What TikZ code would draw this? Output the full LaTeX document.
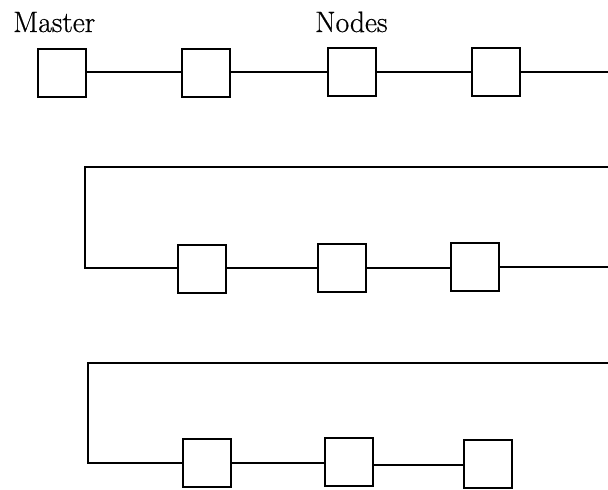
\documentclass[tikz,border=0pt]{standalone}
\usepackage{fontspec}
\newfontfamily\lblfont[FakeBold=0.6]{Latin Modern Roman}
\begin{document}
\begin{tikzpicture}[x=1pt,y=-1pt,
  box/.style={draw,line width=2pt,minimum size=48pt,inner sep=0pt,outer sep=0pt},
  wire/.style={line width=2pt},
  lbl/.style={font=\lblfont\fontsize{29.5}{34}\selectfont,anchor=base west,inner sep=0pt}]
\useasboundingbox (0,0) rectangle (608,490);
% labels
\node[lbl] (master) at (13,32) {Master};
\node[lbl] (nodes) at (315,32) {Nodes};
% row 1
\node[box] (a1) at (62,73) {};
\node[box] (a2) at (206,73) {};
\node[box] (a3) at (352,72) {};
\node[box] (a4) at (496,72) {};
\coordinate (r1) at (608,72);
\draw[wire] (a1.east |- 0,72) -- (a2.west |- 0,72);
\draw[wire] (a2.east |- 0,72) -- (a3.west |- 0,72);
\draw[wire] (a3.east |- 0,72) -- (a4.west);
\draw[wire] (a4.east) -- (r1);
% row 2
\node[box] (b1) at (202,269) {};
\node[box] (b2) at (342,268) {};
\node[box] (b3) at (475,267) {};
\coordinate (t2r) at (608,167);
\coordinate (t2l) at (85,167);
\coordinate (r2) at (608,267);
\draw[wire] (t2r) -- (t2l) |- (b1.west |- 0,268);
\draw[wire] (b1.east |- 0,268) -- (b2.west);
\draw[wire] (b2.east |- 0,268) -- (b3.west |- 0,268);
\draw[wire] (b3.east) -- (r2);
% row 3
\node[box] (c1) at (207,463) {};
\node[box] (c2) at (349,462) {};
\node[box] (c3) at (488,464) {};
\coordinate (t3r) at (608,363);
\coordinate (t3l) at (88,363);
\draw[wire] (t3r) -- (t3l) |- (c1.west);
\draw[wire] (c1.east) -- (c1.east -| c2.west);
\draw[wire] (c2.east |- 0,465) -- (c3.west |- 0,465);
\end{tikzpicture}
\end{document}
